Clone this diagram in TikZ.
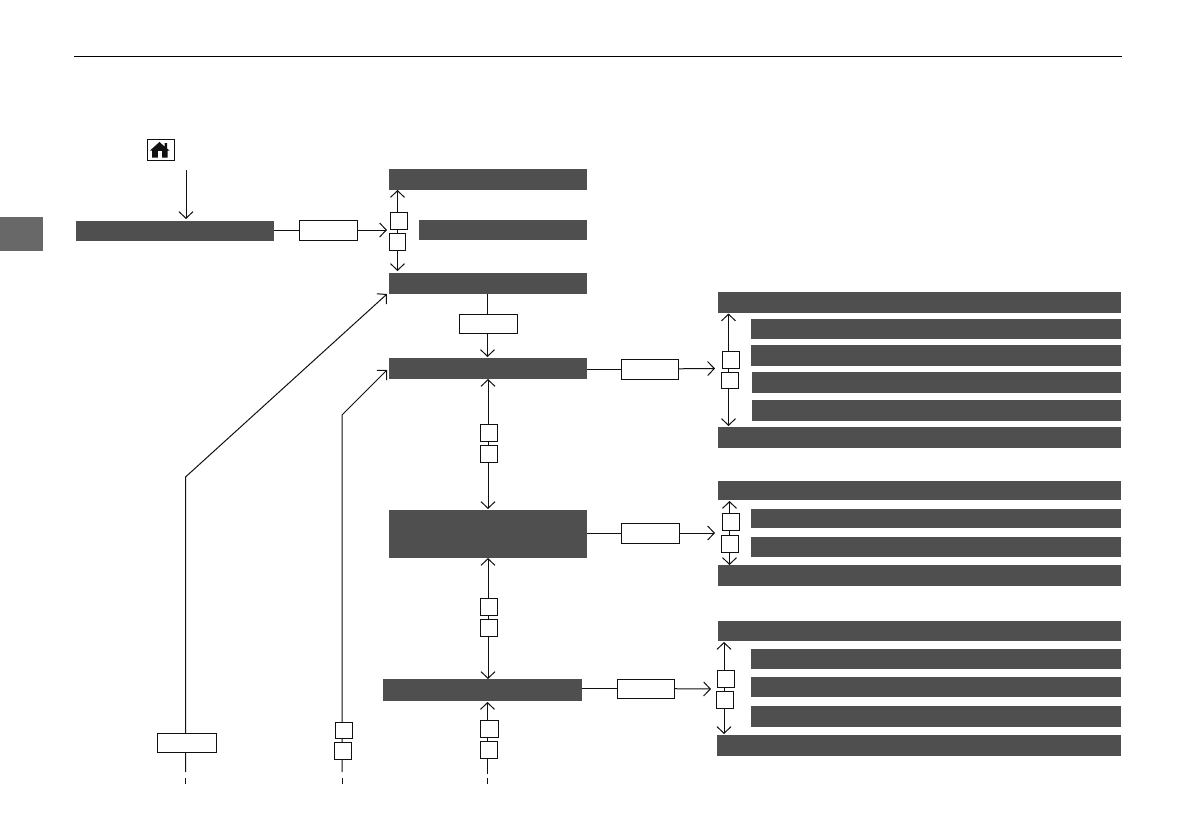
\documentclass[tikz,border=0pt]{standalone}
\usetikzlibrary{arrows.meta,backgrounds}
\definecolor{barcol}{HTML}{4F4F4F}
\definecolor{tabcol}{HTML}{686868}
\definecolor{inkcol}{HTML}{111111}
\tikzset{
  darkbar/.style={fill=barcol,inner sep=0pt,outer sep=0pt},
  labelbox/.style={draw=inkcol,fill=white,line width=0.7pt,inner sep=0pt,outer sep=0pt},
  wire/.style={draw=inkcol,line width=0.75pt},
  >={Straight Barb[length=5pt,width=10.5pt]}
}
\newcommand{\pxbox}[6]{\node[#1,minimum width={(#5-#3)*0.75pt},minimum height={(#6-#4)*0.75pt}] (#2) at ({(#3+#5)/2},{(#4+#6)/2}) {};}
\begin{document}
\begin{tikzpicture}[x=0.75pt,y=-0.75pt]
\useasboundingbox (0,0) rectangle (1191,839);
% header rule and side tab
\coordinate (ruleL) at (74,56.5);
\coordinate (ruleR) at (1122,56.5);
\draw[black,line width=0.8pt] (ruleL) -- (ruleR);
\pxbox{fill=tabcol,inner sep=0pt,outer sep=0pt}{tab}{0}{217}{42.5}{251}
% home icon
\pxbox{labelbox}{home}{147}{139}{174}{160}
\fill[inkcol] (150,150.5) -- (159.5,142) -- (164.5,146.5) -- (164.5,143) -- (167,143) -- (167,148.5) -- (169.5,150.5) -- (167.5,150.5) -- (167.5,157.5) -- (152,157.5) -- (152,150.5) -- cycle;
\fill[white] (157.5,151) rectangle (161.5,157.5);
% dark bars, centre and left
\pxbox{darkbar}{start}{76}{221}{274}{241}
\pxbox{darkbar}{top}{389}{169}{587}{190}
\pxbox{darkbar}{mid}{419}{220}{587}{240}
\pxbox{darkbar}{third}{389}{273}{587}{294}
\pxbox{darkbar}{fourth}{389}{358}{587}{379}
\pxbox{darkbar}{large}{389}{510}{587}{558}
\pxbox{darkbar}{lower}{383}{679}{582}{701}
% right group 1
\pxbox{darkbar}{ra}{718}{292}{1121}{313}
\pxbox{darkbar}{rb}{751}{319}{1121}{339}
\pxbox{darkbar}{rc}{751}{345}{1121}{366}
\pxbox{darkbar}{rd}{752}{372}{1121}{393}
\pxbox{darkbar}{re}{752}{400}{1121}{421}
\pxbox{darkbar}{rf}{718}{427}{1121}{448}
% right group 2
\pxbox{darkbar}{sa}{718}{481}{1121}{500}
\pxbox{darkbar}{sb}{751}{509}{1121}{528}
\pxbox{darkbar}{sc}{751}{537}{1121}{557}
\pxbox{darkbar}{sd}{718}{565}{1121}{586}
% right group 3
\pxbox{darkbar}{ta}{718}{621}{1121}{641}
\pxbox{darkbar}{tb}{751}{649}{1121}{669}
\pxbox{darkbar}{tc}{751}{677}{1121}{697}
\pxbox{darkbar}{td}{751}{706}{1121}{727}
\pxbox{darkbar}{te}{717}{735}{1121}{756}
% label boxes, wide
\pxbox{labelbox}{w1}{299}{220}{357}{240}
\pxbox{labelbox}{w2}{459.5}{314}{517.5}{333}
\pxbox{labelbox}{w3}{621}{359}{678.5}{379}
\pxbox{labelbox}{w4}{621}{523}{679}{543}
\pxbox{labelbox}{w5}{617}{679}{674.5}{698}
\pxbox{labelbox}{w6}{157.5}{733}{216}{752}
% label boxes, square pairs
\pxbox{labelbox}{p1a}{390.5}{212}{407}{229.5}
\pxbox{labelbox}{p1b}{389.5}{233}{405.5}{250}
\pxbox{labelbox}{p2a}{480.5}{424}{497.5}{441}
\pxbox{labelbox}{p2b}{480.5}{445}{497}{462}
\pxbox{labelbox}{p3a}{722}{351}{739}{368.5}
\pxbox{labelbox}{p3b}{721}{372}{738}{388.5}
\pxbox{labelbox}{p4a}{722}{513}{739}{530}
\pxbox{labelbox}{p4b}{721}{535}{738}{552}
\pxbox{labelbox}{p5a}{480.5}{598}{497.5}{615}
\pxbox{labelbox}{p5b}{480.5}{619}{497}{636}
\pxbox{labelbox}{p6a}{717}{670}{734}{687}
\pxbox{labelbox}{p6b}{716}{691}{733}{708}
\pxbox{labelbox}{p7a}{480.5}{720}{498}{737}
\pxbox{labelbox}{p7b}{480.5}{741}{497}{758.5}
\pxbox{labelbox}{p8a}{335}{722.5}{352}{738.5}
\pxbox{labelbox}{p8b}{334}{742}{351}{759}
% free ends
\coordinate (homeEnd) at (186,170);
\coordinate (homeTip) at (186,219);
\coordinate (tip1) at (387,230);
\coordinate (tip3) at (715,368.5);
\coordinate (tip4) at (715,533);
\coordinate (tip5) at (711,689);
\coordinate (diagA1) at (185.5,477);
\coordinate (diagA2) at (387,294);
\coordinate (diagB1) at (342,415);
\coordinate (diagB2) at (387,370);
\coordinate (v1t) at (397.5,190);
\coordinate (v1b) at (397.5,271);
\coordinate (v2) at (487.5,294);
\coordinate (v2b) at (487.5,357);
\coordinate (v3t) at (488,379);
\coordinate (v3b) at (488,509);
\coordinate (v4t) at (488,558);
\coordinate (v4b) at (488,679);
\coordinate (v5t) at (728.5,313.5);
\coordinate (v5b) at (728.5,426);
\coordinate (v6t) at (729.5,501);
\coordinate (v6b) at (729.5,565);
\coordinate (v7t) at (724,642);
\coordinate (v7b) at (724,734);
\coordinate (v8t) at (487.5,702);
\coordinate (d1a) at (185.5,772);\coordinate (d1b) at (185.5,778);\coordinate (d1c) at (185.5,784);
\coordinate (d2a) at (342,772);\coordinate (d2b) at (342,778);\coordinate (d2c) at (342,784);
\coordinate (d3a) at (487.5,774);\coordinate (d3b) at (487.5,778);\coordinate (d3c) at (487.5,784);
\begin{scope}[on background layer]
\draw[wire,->] (homeEnd) -- (homeTip);
\draw[wire] (start.east |- w1) -- (w1);
\draw[wire,->] (w1) -- (tip1);
\draw[wire,<->] (v1t) -- (v1b);
\draw[wire] (v2) -- (w2.north -| v2);
\draw[wire,->] (w2.south -| v2) -- (v2b);
\draw[wire,<->] (v3t) -- (v3b);
\draw[wire,<->] (v4t) -- (v4b);
\draw[wire] (fourth.east |- w3) -- (w3);
\draw[wire,->] (w3) -- (tip3);
\draw[wire,<->] (v5t) -- (v5b);
\draw[wire] (large.east |- w4) -- (w4);
\draw[wire,->] (w4) -- (tip4);
\draw[wire,<->] (v6t) -- (v6b);
\draw[wire] (lower.east |- w5) -- (w5);
\draw[wire,->] (w5) -- (tip5);
\draw[wire,<->] (v7t) -- (v7b);
\draw[wire,->] (d3a) -- (v8t);
\draw[wire] (d3b) -- (d3c);
\draw[wire,->] (d2a) -- (diagB1) -- (diagB2);
\draw[wire] (d2b) -- (d2c);
\draw[wire,->] (d1a) -- (diagA1) -- (diagA2);
\draw[wire] (d1b) -- (d1c);
\end{scope}
\end{tikzpicture}
\end{document}
